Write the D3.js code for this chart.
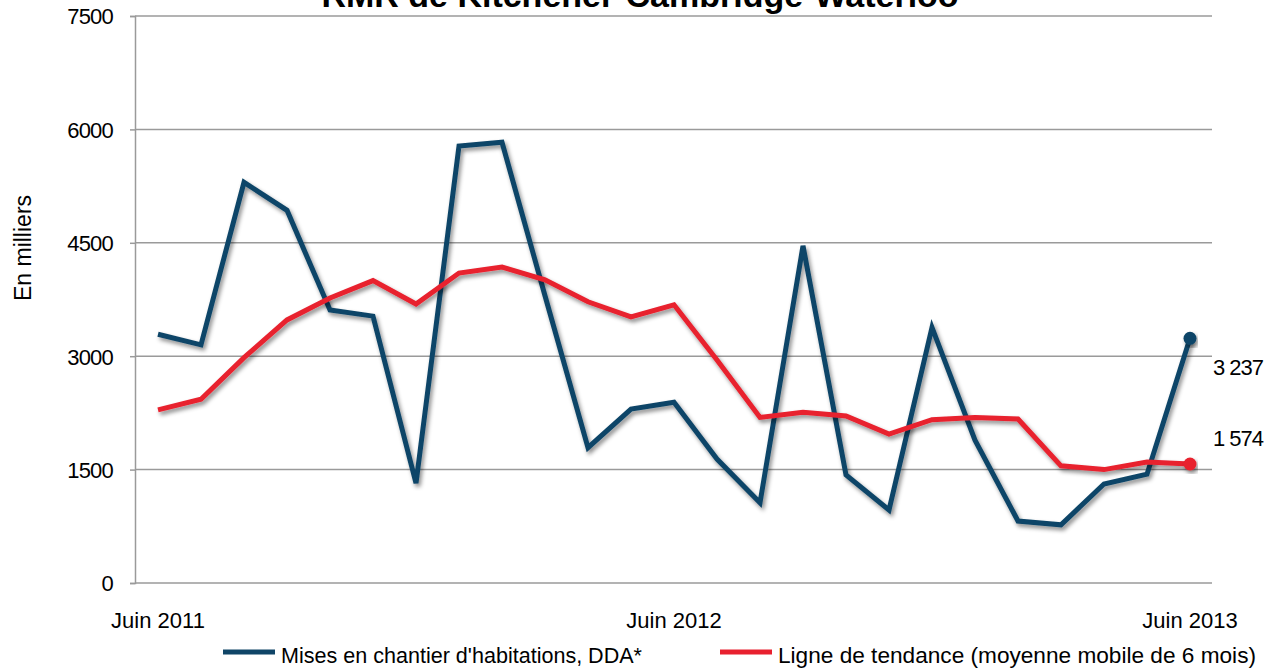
<!DOCTYPE html>
<html>
<head>
<meta charset="utf-8">
<script src="https://cdn.jsdelivr.net/npm/d3@7"></script>
<style>
    body { margin: 0; background: #fff; }
    svg { display: block; font-family: "Liberation Sans", Arial, sans-serif; }
</style>
</head>
<body>
<div class="chart"></div>
<script>
// months, June 2011 .. June 2013
var months = ["Juin 2011", "Juil 2011", "Août 2011", "Sept 2011", "Oct 2011", "Nov 2011",
    "Déc 2011", "Janv 2012", "Févr 2012", "Mars 2012", "Avr 2012", "Mai 2012",
    "Juin 2012", "Juil 2012", "Août 2012", "Sept 2012", "Oct 2012", "Nov 2012",
    "Déc 2012", "Janv 2013", "Févr 2013", "Mars 2013", "Avr 2013", "Mai 2013", "Juin 2013"];

var starts = [3290, 3150, 5300, 4930, 3610, 3530, 1320, 5780, 5830, 3800, 1790, 2300,
    2390, 1640, 1060, 4460, 1430, 965, 3380, 1890, 820, 770, 1310, 1440, 3237];

var trend = [2290, 2430, 2980, 3480, 3770, 4000, 3690, 4100, 4180, 4010, 3720, 3520,
    3680, 2950, 2190, 2260, 2210, 1970, 2160, 2190, 2170, 1550, 1500, 1600, 1574];

var yTicks = [0, 1500, 3000, 4500, 6000, 7500];
var xTickLabels = ["Juin 2011", "Juin 2012", "Juin 2013"];

var seriesNames = ["Mises en chantier d'habitations, DDA*", "Ligne de tendance (moyenne mobile de 6 mois)"];
var colors = ["#0f4567", "#e8202f"];

var width = 1280, height = 672;

var svg = d3.select(".chart")
    .append("svg")
    .attr("width", width)
    .attr("height", height);

// drop shadow like the original
var defs = svg.append("defs");
var f = defs.append("filter")
    .attr("id", "shadow")
    .attr("x", "-10%").attr("y", "-10%")
    .attr("width", "120%").attr("height", "130%");
f.append("feDropShadow")
    .attr("dx", 2).attr("dy", 3)
    .attr("stdDeviation", 2)
    .attr("flood-color", "#000")
    .attr("flood-opacity", 0.45);

var x = d3.scalePoint()
    .domain(months)
    .range([158, 1190]);

var y = d3.scaleLinear()
    .domain([0, 7500])
    .range([583, 16]);

var plotLeft = 135, plotRight = 1212;

// gridlines
svg.append("g")
    .selectAll("line")
    .data(yTicks)
    .enter().append("line")
    .attr("x1", plotLeft)
    .attr("x2", plotRight)
    .attr("y1", function (d) { return y(d); })
    .attr("y2", function (d) { return y(d); })
    .attr("stroke", "#9a9a9a")
    .attr("stroke-width", 1.5);

// y axis
var yAxis = svg.append("g")
    .attr("transform", "translate(" + plotLeft + ",0)")
    .call(d3.axisLeft(y).tickValues(yTicks).tickSize(5).tickPadding(17).tickFormat(d3.format("d")));
yAxis.select(".domain").attr("stroke", "#9a9a9a").attr("stroke-width", 1.5);
yAxis.selectAll(".tick line").attr("stroke", "#9a9a9a").attr("stroke-width", 1.5);
yAxis.selectAll(".tick text")
    .attr("fill", "#000")
    .attr("dy", "0.36em")
    .style("font-size", "22px")
    .style("font-family", "Liberation Sans, Arial, sans-serif")
    .attr("letter-spacing", "-0.8");

// x labels
svg.append("g")
    .selectAll("text")
    .data(xTickLabels)
    .enter().append("text")
    .attr("x", function (d) { return x(d); })
    .attr("y", 628)
    .attr("text-anchor", "middle")
    .style("font-size", "22px")
    .text(function (d) { return d; });

// y title
svg.append("text")
    .attr("transform", "translate(31,248) rotate(-90)")
    .attr("text-anchor", "middle")
    .style("font-size", "23px")
    .text("En milliers");

// chart title (cut by the top edge, as in the original)
svg.append("text")
    .attr("x", 640)
    .attr("y", 7)
    .attr("text-anchor", "middle")
    .style("font-size", "34px")
    .style("font-weight", "bold")
    .text("RMR de Kitchener-Cambridge-Waterloo");

var line = d3.line()
    .x(function (d, i) { return x(months[i]); })
    .y(function (d) { return y(d); });

var series = [starts, trend];

svg.append("g")
    .selectAll("path")
    .data(series)
    .enter().append("path")
    .attr("d", line)
    .attr("fill", "none")
    .attr("stroke", function (d, i) { return colors[i]; })
    .attr("stroke-width", 5)
    .attr("stroke-linejoin", "miter")
    .attr("filter", "url(#shadow)");

// end markers
var last = months.length - 1;
svg.append("g")
    .selectAll("circle")
    .data(series)
    .enter().append("circle")
    .attr("cx", x(months[last]))
    .attr("cy", function (d) { return y(d[last]); })
    .attr("r", 6.5)
    .attr("fill", function (d, i) { return colors[i]; })
    .attr("filter", "url(#shadow)");

// end values
var fmt = d3.formatLocale({ decimal: ",", thousands: " ", grouping: [3], currency: ["", " $"] }).format(",d");
svg.append("g")
    .selectAll("text")
    .data(series)
    .enter().append("text")
    .attr("x", 1238)
    .attr("y", function (d, i) { return i === 0 ? 375 : 446; })
    .attr("text-anchor", "middle")
    .style("font-size", "22px")
    .attr("letter-spacing", "-1")
    .text(function (d) { return fmt(d[last]); });

// legend
var legendX = [223, 720];
var legendW = [361, 478];
var legend = svg.append("g")
    .selectAll("g")
    .data(seriesNames)
    .enter().append("g")
    .attr("transform", function (d, i) { return "translate(" + legendX[i] + ",652)"; });
legend.append("line")
    .attr("x1", 0).attr("x2", 52)
    .attr("y1", 0).attr("y2", 0)
    .attr("stroke", function (d, i) { return colors[i]; })
    .attr("stroke-width", 5);
legend.append("text")
    .attr("x", 58)
    .attr("y", 11)
    .style("font-size", "22px")
    .attr("textLength", function (d, i) { return legendW[i]; })
    .attr("lengthAdjust", "spacingAndGlyphs")
    .text(function (d) { return d; });
</script>
</body>
</html>
